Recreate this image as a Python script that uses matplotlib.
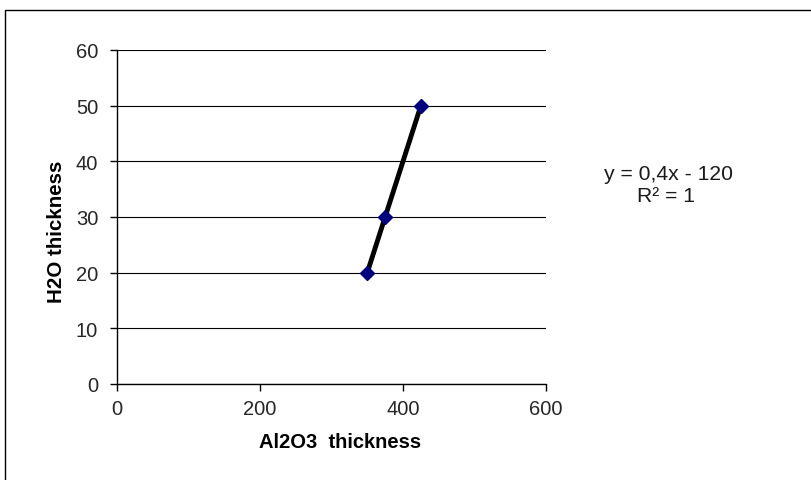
import matplotlib
matplotlib.use("Agg")
import matplotlib.pyplot as plt
from matplotlib.patches import Rectangle
import numpy as np

al2o3 = [350, 375, 425]
h2o = [20, 30, 50]
xticks = [0, 200, 400, 600]
yticks = [0, 10, 20, 30, 40, 50, 60]

plt.rcParams['font.family'] = ['Liberation Sans', 'DejaVu Sans']

fig = plt.figure(figsize=(8.11, 4.81), dpi=100)
fig.patches.append(Rectangle((5/811, -0.1), 1.2, 1 - 11/481 + 0.1, transform=fig.transFigure,
                             fill=False, edgecolor='black', linewidth=1.0))

ax = fig.add_axes([117/811, 1 - 385/481, (546 - 117)/811, (385 - 51)/481])
ax.set_xlim(0, 600)
ax.set_ylim(0, 60)
ax.set_xticks(xticks)
ax.set_yticks(yticks)
for s in ['top', 'right']:
    ax.spines[s].set_visible(False)
for s in ['left', 'bottom']:
    ax.spines[s].set_linewidth(1.0)
ax.grid(axis='y', color='black', linewidth=0.8)
ax.set_axisbelow(True)
ax.tick_params(direction='out', length=5, width=1, labelsize=14.5, colors='black',
               labelcolor='#262626')
ax.tick_params(axis='x', pad=6)
ax.tick_params(axis='y', pad=8.5)

# trendline
coef = np.polyfit(al2o3, h2o, 1)
xt = np.array([min(al2o3), max(al2o3)])
ax.plot(xt, np.polyval(coef, xt), color='black', linewidth=3.5, zorder=3)
ax.plot(al2o3, h2o, linestyle='none', marker='D', markersize=7, color='#000080', zorder=4)

ax.set_xlabel('Al2O3  thickness', fontsize=14.5, fontweight='bold')
ax.set_ylabel('H2O thickness', fontsize=14.8, fontweight='bold')
ax.xaxis.set_label_coords((340 - 117) / 429, (385 - 433) / 334)
ax.yaxis.set_label_coords((66 - 117) / 429, (385 - 232) / 334)

fig.text(668/811, 1 - 175/481, 'y = 0,4x - 120', ha='center', va='center', fontsize=15.2, color='#1a1a1a')
fig.text(666/811, 1 - 197/481, 'R² = 1', ha='center', va='center', fontsize=15.2, color='#1a1a1a')

fig.savefig('out.png', dpi=100)
